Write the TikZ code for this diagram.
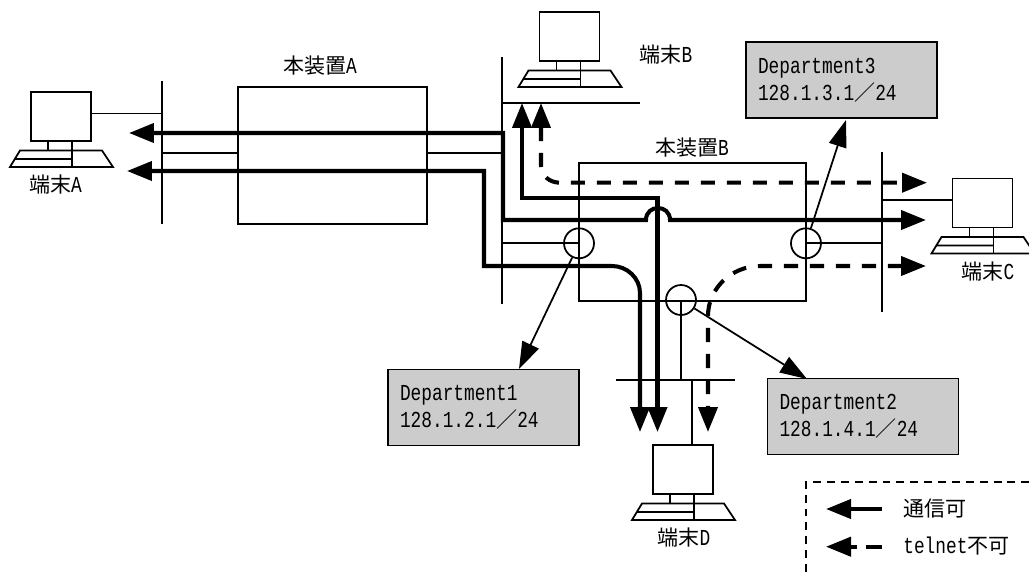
\documentclass[tikz,border=0pt]{standalone}
\usepackage{fontspec}
\usetikzlibrary{arrows.meta}
\newfontfamily\gothfont[FakeStretch=0.78]{Liberation Mono}
\newfontfamily\jpfont[Scale=0.92]{Noto Sans CJK JP}
\newcommand{\jp}[1]{{\jpfont #1}}
\tikzset{
	labeltext/.style={font=\gothfont\fontsize{13}{15.4}\selectfont, inner sep=0pt},
	wire/.style={line width=1pt},
	monitor/.style={draw, line width=1pt, minimum width=1.2cm, minimum height=0.98cm, inner sep=0pt},
	portcircle/.style={circle, draw, line width=1pt, minimum size=0.6cm, inner sep=0pt},
	deptbox/.style={labeltext, draw, line width=1pt, fill=black!20, minimum height=1.52cm, text width=3.34cm, inner xsep=0.24cm, align=left},
	leader/.style={wire, -{Triangle[length=0.54cm, width=0.36cm]}},
	okpath/.style={line width=2.3pt, {Triangle[length=0.5cm, width=0.38cm]}-{Triangle[length=0.5cm, width=0.38cm]}},
	okone/.style={line width=2.3pt, -{Triangle[length=0.5cm, width=0.38cm]}},
	ngpath/.style={okpath, dash pattern=on 8pt off 6.8pt},
	pics/terminal/.style={code={
		\node[monitor] (-mon) at (0,0) {};
		\draw[wire] (-13,24.5) -- (-13,34)  (11,24.5) -- (11,50.5);
		\draw[wire] (-41,34) -- (41,34) -- (52,50.5) -- (-51,50.5) -- cycle  (-46,42.5) -- (11,42.5);
	}}
}
\begin{document}
\begin{tikzpicture}[x=0.02cm, y=-0.02cm]
	\useasboundingbox (0,0) rectangle (1029,572);
	\coordinate (busAtop) at (162,81);
	\coordinate (busAbot) at (162,224);
	\coordinate (busBtop) at (502,57);
	\coordinate (busBbot) at (502,304);
	\coordinate (busBl) at (502,103);
	\coordinate (busBr) at (640,103);
	\coordinate (busCtop) at (882,152);
	\coordinate (busCbot) at (882,312);
	\coordinate (busDl) at (616,380);
	\coordinate (busDr) at (735,380);
	\coordinate (stubA) at (162,113.5);
	\coordinate (stubC) at (882,200);
	\coordinate (stubD) at (692,380);
	\coordinate (tipA) at (519,369);
	\coordinate (tipB) at (807,379);
	\coordinate (tipC) at (846,120);

	\node[draw, wire, minimum width=3.79cm, minimum height=2.74cm, inner sep=0pt] (devA) at (332.5,155.5) {};
	\node[draw, wire, minimum width=4.54cm, minimum height=2.75cm, inner sep=0pt] (devB) at (692.5,232) {};
	\node[labeltext] (devAlabel) at (320,66) {\jp{本装置}A};
	\node[labeltext] (devBlabel) at (692,148) {\jp{本装置}B};

	\pic (termA) at (61,116.5) {terminal};
	\pic (termB) at (569.5,36.5) {terminal};
	\pic (termC) at (982.5,203) {terminal};
	\pic (termD) at (683,469.5) {terminal};
	\node[labeltext] (termAlabel) at (55.5,185) {\jp{端末}A};
	\node[labeltext] (termBlabel) at (666,55) {\jp{端末}B};
	\node[labeltext] (termClabel) at (988,272) {\jp{端末}C};
	\node[labeltext] (termDlabel) at (684,538) {\jp{端末}D};

	\node[portcircle] (port1) at (579,243.3) {};
	\node[portcircle] (port2) at (681,300) {};
	\node[portcircle] (port3) at (806,243.3) {};

	\draw[wire] (busAtop) -- (busAbot);
	\draw[wire] (busBtop) -- (busBbot);
	\draw[wire] (busBl) -- (busBr);
	\draw[wire] (busCtop) -- (busCbot);
	\draw[wire] (busDl) -- (busDr);
	\draw[wire] (stubA) -- (stubA -| termA-mon.east);
	\draw[wire] (stubC) -- (stubC -| termC-mon.west);
	\draw[wire] (stubD) -- (stubD |- termD-mon.north);
	\draw[wire] (busAtop |- 0,153) -- (devA.west |- 0,153);
	\draw[wire] (devA.east |- 0,153) -- (busBtop |- 0,153);
	\draw[wire] (busBl |- port1) -- (port1.center);
	\draw[wire] (port3.center) -- (busCtop |- port3);
	\draw[wire] (port2.center) -- (port2.center |- busDl);

	\node[deptbox] (dept1) at (483.5,407.5) {Department1\\128.1.2.1\jp{／}24};
	\node[deptbox] (dept2) at (863,416.5) {Department2\\128.1.4.1\jp{／}24};
	\node[deptbox] (dept3) at (841.5,80) {Department3\\128.1.3.1\jp{／}24};
	\draw[leader] (port1) -- (tipA);
	\draw[leader] (port2) -- (tipB);
	\draw[leader] (port3) -- (tipC);

	\draw[okpath] (129,133) -- (503,133) -- (503,220) -- (646,220) .. controls (646,204) and (670,204) .. (670,220) -- (926,220);
	\draw[okpath] (127,171) -- (484,171) -- (484,266) -- (612,266) .. controls (627,266) and (640,278) .. (640,293) -- (640,432);
	\draw[okpath] (522,103) -- (522,198) -- (657.5,198) -- (657.5,432);
	\draw[ngpath] (541,103) -- (541,166) .. controls (541,176) and (550,182.7) .. (560,182.7) -- (927,182.7);
	\draw[ngpath] (926,266) -- (760,266) .. controls (732,266) and (708,288) .. (708,316) -- (708,432);

	\draw[wire, dash pattern=on 4.5pt off 3.4pt] (806,572) -- (806,482) -- (1029,482);
	\coordinate (legOKr) at (882,509);
	\coordinate (legOKl) at (826,509);
	\coordinate (legNGr) at (882,546.7);
	\coordinate (legNGl) at (826,546.7);
	\draw[okone] (legOKr) -- (legOKl);
	\draw[okone, dash pattern=on 9pt off 5pt] (legNGr) -- (legNGl);
	\node[labeltext, anchor=west] (legOK) at (903,509) {\jp{通信可}};
	\node[labeltext, anchor=west] (legNG) at (903,546) {telnet\jp{不可}};
\end{tikzpicture}
\end{document}
